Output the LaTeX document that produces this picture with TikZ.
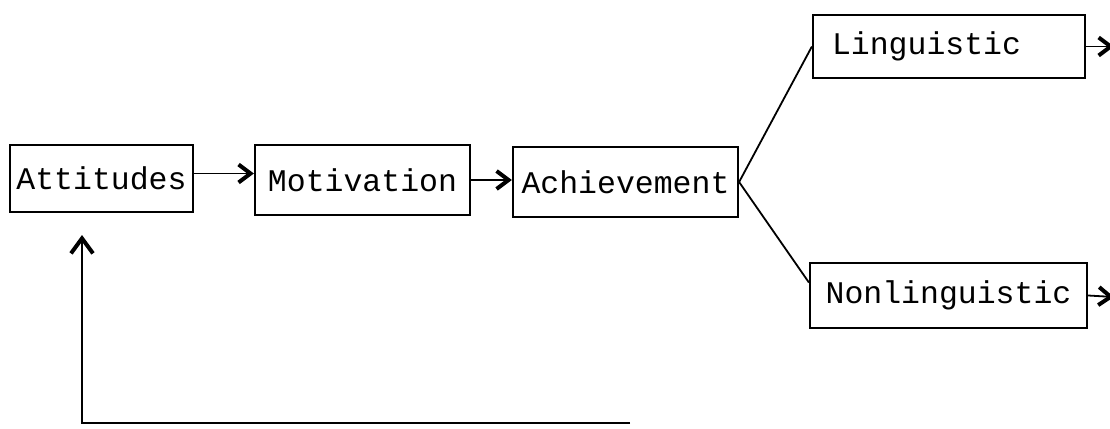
\documentclass[tikz,border=0pt]{standalone}
\usepackage{fontspec}
\setmonofont{Liberation Mono}
\usetikzlibrary{arrows.meta}
\begin{document}
\begin{tikzpicture}[x=1pt,y=-1pt,
  box/.style={draw=black,line width=2.2pt,rectangle,inner sep=0pt,
    font=\ttfamily\fontsize{31.5}{36}\selectfont},
  conn/.style={draw=black,line width=1.8pt},
  arr/.style={conn,-{Straight Barb[length=12pt,width=18pt,line width=4pt]}},
  uparr/.style={conn,-{Straight Barb[length=15pt,width=22pt,line width=4pt]}}]
\useasboundingbox (0,0) rectangle (1110,428);
\node[box,minimum width=183pt,minimum height=67pt] (att) at (101.5,178.5) {Attitudes};
\node[box,minimum width=215pt,minimum height=70pt] (mot) at (362.5,180) {Motivation};
\node[box,minimum width=225pt,minimum height=70pt] (ach) at (625.5,182) {Achievement};
\node[box,minimum width=272pt,minimum height=63pt,text width=234pt,align=left] (lin) at (949,46.5) {Linguistic};
\node[box,minimum width=277pt,minimum height=65pt] (non) at (948.5,295.5) {Nonlinguistic};
\coordinate (linout) at (1114,46.5);
\coordinate (nonout) at (1114,297);
\coordinate (fbend) at (630,423);
\coordinate (fcorner) at (82,423);
\coordinate (fbtip) at (82,235);
\draw[arr] ([yshift=5pt]att.east) -- ([yshift=5pt]att.east -| mot.west);
\draw[arr] (mot.east) -- (mot.east -| ach.west);
\draw[conn] (ach.east) -- (lin.west);
\draw[conn] (ach.east) -- ([yshift=13pt]non.west);
\draw[arr] (lin.east) -- (linout);
\draw[arr] (non.east) -- (nonout);
\draw[uparr] (fbend) -- (fcorner) -- (fbtip);
\end{tikzpicture}
\end{document}
